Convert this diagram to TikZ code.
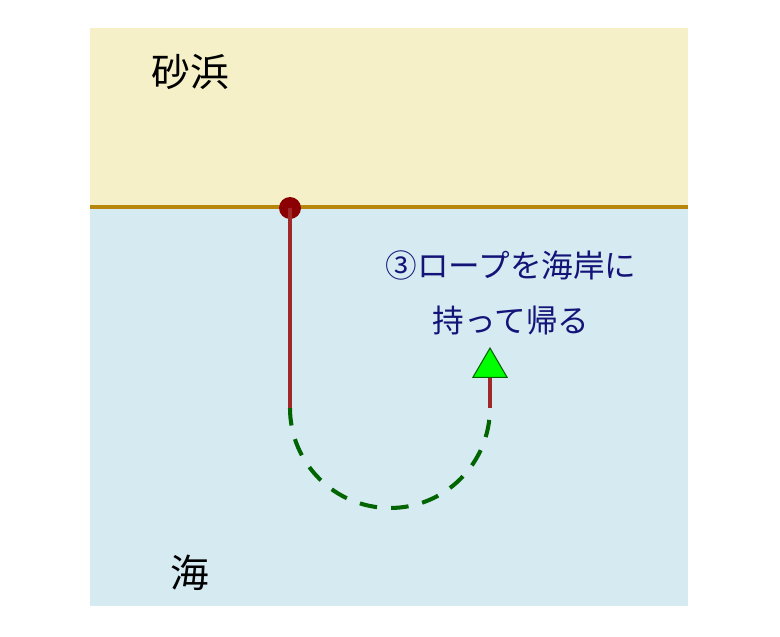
\documentclass[tikz,border=0pt]{standalone}
\usepackage{fontspec}
\newfontfamily\jpfont{Noto Sans CJK JP}
\usetikzlibrary{arrows.meta,positioning}

\definecolor{sand}{RGB}{245,240,200}
\definecolor{seablue}{RGB}{214,234,242}
\definecolor{shore}{RGB}{184,134,11}
\definecolor{knot}{RGB}{139,0,0}
\definecolor{ropered}{RGB}{160,40,40}
\definecolor{pathgreen}{RGB}{0,100,0}
\definecolor{notenavy}{RGB}{20,20,120}

\begin{document}
\begin{tikzpicture}[x=0.02cm,y=-0.02cm,
        place/.style={font=\jpfont\fontsize{22}{26}\selectfont},
        note/.style={font=\jpfont\fontsize{18}{31}\selectfont,text=notenavy,align=center},
        rope/.style={line width=2.3pt,draw=ropered}]

  \useasboundingbox (0,0) rectangle (780,636);
  \fill[sand] (90,28) rectangle (688,207);
  \fill[seablue] (90,207) rectangle (688,606);
  \draw[shore,line width=2.3pt] (90,207) -- (688,207);

  \node[place] (beach) at (190,72) {砂浜};
  \node[place] (sea) at (190,573) {海};
  \node[note] (step3) at (511,293) {③ロープを海岸に\\持って帰る};

  \node[circle,fill=knot,inner sep=0pt,minimum size=0.44cm] (anchor) at (290,208) {};
  \coordinate (ropeend) at (290,408);
  \coordinate (back) at (490,408);
  \coordinate (tip) at (490,347);

  \draw[rope] (anchor.center) -- (ropeend);
  \draw[pathgreen,line width=2.3pt,dash pattern=on 10pt off 8pt]
        (ropeend) arc[start angle=180,end angle=360,radius=2cm];
  \draw[rope,-{Triangle[length=17.6pt,width=20.4pt,fill=green,color=pathgreen,line width=0.6pt]}]
        (back) -- (tip);

\end{tikzpicture}
\end{document}
